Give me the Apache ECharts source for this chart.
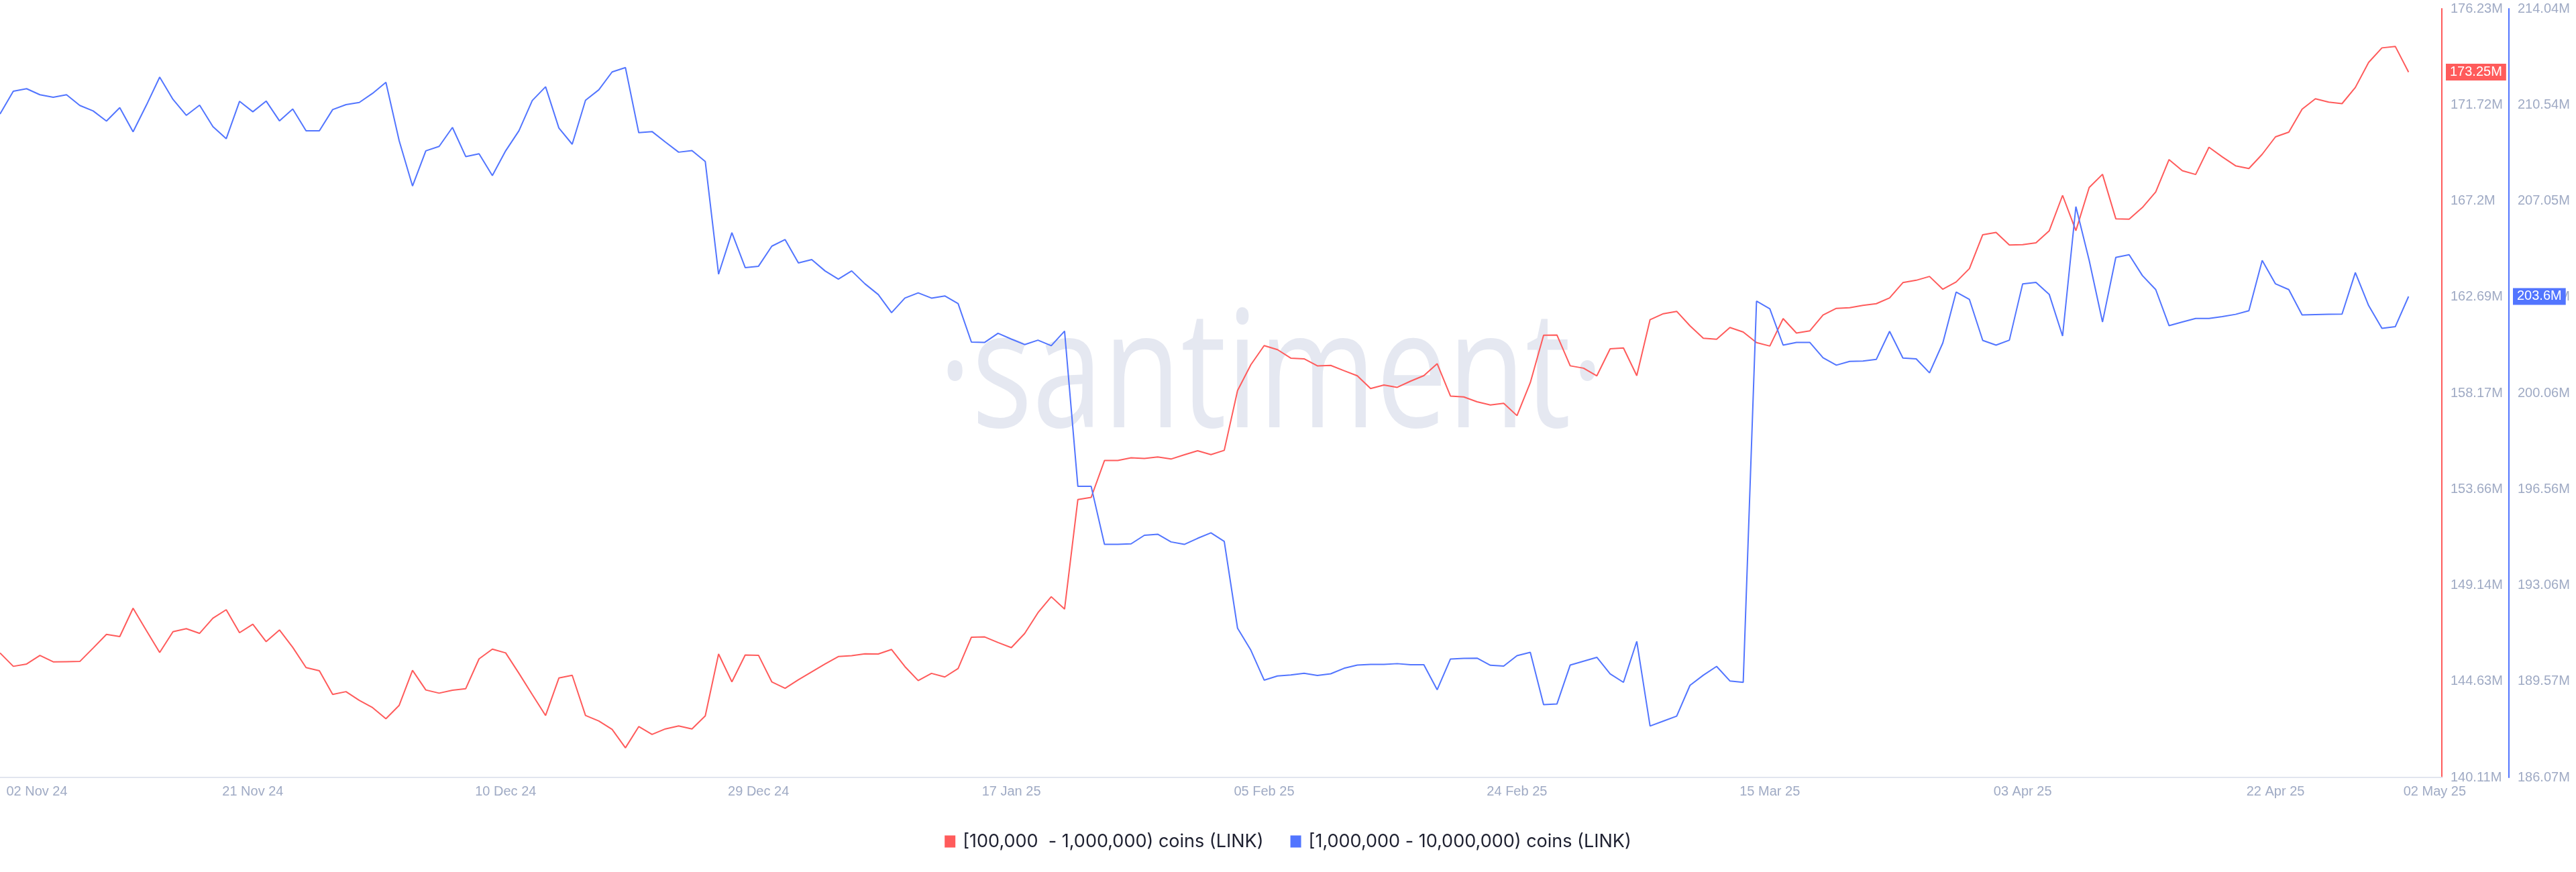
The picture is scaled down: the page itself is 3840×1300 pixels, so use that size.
<!DOCTYPE html>
<html>
<head>
<meta charset="utf-8">
<script src="https://cdn.jsdelivr.net/npm/echarts@6/dist/echarts.min.js"></script>
<style>
html,body{margin:0;padding:0;background:#fff;}
#chart{width:3840px;height:1300px;}
</style>
</head>
<body>
<div id="chart"></div>
<script>
// ---- data (values in millions of LINK) ----
const startDate = '2024-11-02';
const seriesNames = ['[100,000  - 1,000,000) coins (LINK)', '[1,000,000 - 10,000,000) coins (LINK)'];
const holders100kTo1m = [
145.96,145.33,145.44,145.84,145.54,145.55,145.56,146.19,146.83,146.73,
148.06,147.01,145.98,146.96,147.10,146.88,147.59,147.99,146.91,147.31,
146.49,147.04,146.22,145.27,145.12,144.01,144.14,143.73,143.39,142.87,
143.50,145.14,144.22,144.07,144.21,144.28,145.68,146.14,145.96,145.00,
144.00,143.02,144.78,144.91,143.02,142.76,142.37,141.50,142.50,142.13,
142.39,142.53,142.39,143.00,145.91,144.60,145.86,145.85,144.60,144.30,
144.70,145.07,145.44,145.79,145.83,145.92,145.91,146.12,145.32,144.66,
145.00,144.83,145.23,146.70,146.71,146.45,146.21,146.87,147.85,148.60,
148.02,153.17,153.27,155.00,155.00,155.13,155.10,155.17,155.07,155.27,
155.46,155.28,155.48,158.29,159.50,160.40,160.21,159.81,159.78,159.45,
159.47,159.22,158.98,158.38,158.55,158.44,158.73,158.99,159.55,158.03,
157.99,157.76,157.61,157.69,157.11,158.66,160.89,160.90,159.45,159.34,
158.98,160.25,160.29,158.99,161.62,161.90,162.01,161.33,160.75,160.70,
161.25,161.04,160.54,160.38,161.67,160.99,161.09,161.84,162.15,162.18,
162.29,162.37,162.64,163.36,163.47,163.65,163.05,163.39,164.02,165.61,
165.72,165.13,165.14,165.23,165.80,167.46,165.80,167.83,168.45,166.36,
166.34,166.89,167.62,169.14,168.62,168.44,169.72,169.27,168.85,168.72,
169.39,170.21,170.43,171.51,172.00,171.84,171.77,172.53,173.71,174.39,
174.46,173.25
];
const holders1mTo10m = [
210.21,211.04,211.13,210.91,210.82,210.91,210.52,210.32,209.95,210.44,
209.56,210.53,211.55,210.74,210.16,210.53,209.75,209.31,210.67,210.29,
210.68,209.96,210.39,209.60,209.60,210.37,210.55,210.63,210.96,211.36,
209.23,207.59,208.87,209.03,209.72,208.66,208.76,207.97,208.87,209.60,
210.70,211.20,209.70,209.11,210.71,211.09,211.74,211.90,209.53,209.57,
209.19,208.82,208.88,208.48,204.38,205.89,204.62,204.67,205.40,205.64,
204.79,204.91,204.50,204.20,204.50,204.03,203.64,202.98,203.51,203.70,
203.51,203.59,203.31,201.91,201.90,202.23,202.02,201.82,201.98,201.78,
202.31,196.66,196.66,194.55,194.55,194.57,194.88,194.92,194.64,194.55,
194.77,194.97,194.66,191.50,190.70,189.61,189.76,189.80,189.86,189.78,
189.84,190.04,190.16,190.18,190.18,190.21,190.17,190.17,189.26,190.38,
190.40,190.41,190.15,190.12,190.50,190.62,188.72,188.74,190.16,190.30,
190.44,189.84,189.53,191.02,187.94,188.12,188.30,189.42,189.79,190.11,
189.58,189.53,203.40,203.12,201.80,201.90,201.90,201.34,201.07,201.21,
201.22,201.28,202.30,201.33,201.30,200.79,201.88,203.73,203.46,201.97,
201.80,201.98,204.03,204.08,203.64,202.13,206.84,204.88,202.64,204.99,
205.09,204.33,203.82,202.51,202.64,202.77,202.77,202.84,202.92,203.05,
204.88,204.03,203.82,202.90,202.91,202.92,202.93,204.44,203.24,202.41,
202.47,203.57
];
const xTickDates = ['2024-11-02','2024-11-21','2024-12-10','2024-12-29','2025-01-17','2025-02-05','2025-02-24','2025-03-15','2025-04-03','2025-04-22','2025-05-02'];
const xTickLabels = ['02 Nov 24','21 Nov 24','10 Dec 24','29 Dec 24','17 Jan 25','05 Feb 25','24 Feb 25','15 Mar 25','03 Apr 25','22 Apr 25','02 May 25'];
const redAxisTicks = [140.11,144.625,149.14,153.655,158.17,162.685,167.2,171.715,176.23];
const blueAxisTicks = [186.07,189.56625,193.0625,196.55875,200.055,203.55125,207.0475,210.54375,214.04];

// ---- build category dates ----
const dates = [];
(function(){
  const t0 = Date.parse(startDate + 'T00:00:00Z');
  for (let i = 0; i < holders100kTo1m.length; i++) {
    dates.push(new Date(t0 + i * 86400000).toISOString().slice(0, 10));
  }
})();
const xTickIdx = xTickDates.map(d => dates.indexOf(d));

const RED = '#ff5b5b', BLUE = '#5275ff', TICK = '#9faac4';
const FONT = '"Liberation Sans", Arial, sans-serif';
const fmtM = v => (Math.round(v * 100 + 1e-6) / 100) + 'M';

const chart = echarts.init(document.getElementById('chart'), null, {renderer: 'canvas'});
const option = {
  animation: false,
  backgroundColor: '#ffffff',
  grid: {left: 0, right: 200, top: 13, bottom: 141, containLabel: false},
  legend: {
    data: seriesNames,
    left: 'center', top: 1236,
    icon: 'rect', itemWidth: 16, itemHeight: 18, itemGap: 40,
    textStyle: {fontFamily: 'Inter, sans-serif', fontSize: 27, color: '#1e2030', padding: [0, 0, 0, 6]}
  },
  xAxis: {
    type: 'value', min: 0, max: 183.5,
    axisLine: {show: true, onZero: false, lineStyle: {color: '#e1e5ef', width: 2}},
    axisTick: {show: false},
    splitLine: {show: false},
    axisLabel: {
      customValues: xTickIdx,
      color: TICK, fontSize: 20, fontFamily: FONT, margin: 11,
      formatter: function (v) {
        const k = xTickIdx.indexOf(Math.round(v));
        if (k < 0) return '';
        const s = xTickLabels[k];
        if (k === 0) return '{first|' + s + '}';
        if (k === xTickIdx.length - 1) return '{last|' + s + '}';
        return s;
      },
      rich: {
        first: {padding: [0, 0, 0, 110], color: TICK, fontSize: 20, fontFamily: FONT},
        last: {padding: [0, 0, 0, 78], color: TICK, fontSize: 20, fontFamily: FONT}
      }
    }
  },
  yAxis: [
    {
      type: 'value', position: 'right', offset: 0,
      min: redAxisTicks[0], max: redAxisTicks[redAxisTicks.length - 1],
      axisLine: {show: true, onZero: false, lineStyle: {color: RED, width: 2}},
      axisTick: {show: false}, splitLine: {show: false},
      axisLabel: {customValues: redAxisTicks, formatter: fmtM, color: TICK, fontSize: 20, fontFamily: FONT, margin: 13}
    },
    {
      type: 'value', position: 'right', offset: 100,
      min: blueAxisTicks[0], max: blueAxisTicks[blueAxisTicks.length - 1],
      axisLine: {show: true, onZero: false, lineStyle: {color: BLUE, width: 2}},
      axisTick: {show: false}, splitLine: {show: false},
      axisLabel: {customValues: blueAxisTicks, formatter: fmtM, color: TICK, fontSize: 20, fontFamily: FONT, margin: 13}
    }
  ],
  series: [
    {
      name: seriesNames[0], type: 'line', yAxisIndex: 0, showSymbol: false,
      itemStyle: {color: RED}, lineStyle: {color: RED, width: 2},
      data: holders100kTo1m.map((v, i) => [i, v]), z: 3
    },
    {
      name: seriesNames[1], type: 'line', yAxisIndex: 1, showSymbol: false,
      itemStyle: {color: BLUE}, lineStyle: {color: BLUE, width: 2},
      data: holders1mTo10m.map((v, i) => [i, v]), z: 4
    }
  ],
  graphic: [
    {
      type: 'text', z: -10, silent: true,
      x: 1895, y: 568, scaleX: 0.78,
      style: {text: '·santiment·', font: '400 243px "Open Sans"', fill: '#e5e8f1', align: 'center', verticalAlign: 'middle'}
    }
  ]
};
chart.setOption(option);

// value badges at the end of each axis
const lastRed = holders100kTo1m[holders100kTo1m.length - 1];
const lastBlue = holders1mTo10m[holders1mTo10m.length - 1];
const axisX = chart.convertToPixel({xAxisIndex: 0}, 183.5);
const yRed = chart.convertToPixel({yAxisIndex: 0}, lastRed);
const yBlue = chart.convertToPixel({yAxisIndex: 1}, lastBlue);
chart.setOption({
  graphic: [
    option.graphic[0],
    {
      type: 'text', z: 100, x: axisX + 6, y: yRed,
      style: {text: fmtM(lastRed), font: '20px ' + FONT, fill: '#ffffff', backgroundColor: RED, padding: [3, 6, 2, 6], align: 'left', verticalAlign: 'middle'}
    },
    {
      type: 'text', z: 100, x: axisX + 106, y: yBlue,
      style: {text: (Math.round(lastBlue * 10) / 10) + 'M', font: '20px ' + FONT, fill: '#ffffff', backgroundColor: BLUE, padding: [3, 6, 2, 6], align: 'left', verticalAlign: 'middle'}
    }
  ]
});
</script>
</body>
</html>
